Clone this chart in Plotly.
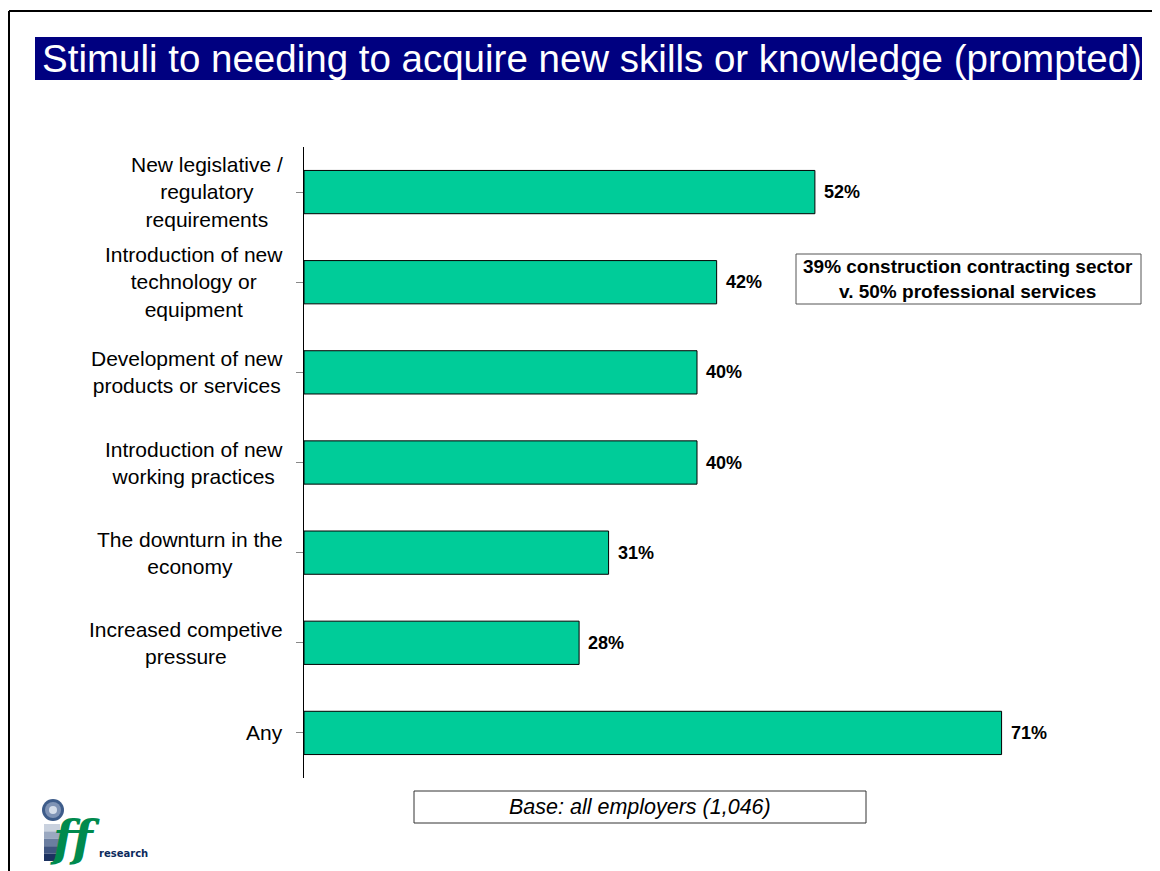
import plotly.graph_objects as go

categories = [
    "New legislative /<br>regulatory<br>requirements",
    "Introduction of new<br>technology or<br>equipment",
    "Development of new<br>products or services",
    "Introduction of new<br>working practices",
    "The downturn in the<br>economy",
    "Increased competive<br>pressure",
    "Any",
]
values = [52, 42, 40, 40, 31, 28, 71]
value_labels = ["52%", "42%", "40%", "40%", "31%", "28%", "71%"]
title_text = "Stimuli to needing to acquire new skills or knowledge (prompted)"
note_text = "39% construction contracting sector<br>v. 50% professional services"
base_text = "Base: all employers (1,046)"

# page body has an 8px margin; work in screen pixels and shift
OFF = 8
W, H = 1160 - OFF, 871 - OFF
L, R, T, B = 304, 1090, 147, 778  # plot area in screen pixels
FONT = "Arial, Liberation Sans, Helvetica, sans-serif"


def px(x):
    return (x - L) / (R - L)


def py(y):
    return (B - y) / (B - T)


ids = list(range(len(categories)))

fig = go.Figure()
fig.add_trace(go.Bar(
    x=values, y=ids, orientation="h",
    marker=dict(color="#00CC99", line=dict(color="#000000", width=1)),
    hoverinfo="skip",
))

annotations = []
for i, c in enumerate(categories):
    annotations.append(dict(
        x=px(285), xref="paper", y=i, yref="y", text=c, showarrow=False,
        xanchor="right", yanchor="middle", align="center",
        font=dict(family=FONT, size=21, color="#000000"),
    ))
for i, (v, t) in enumerate(zip(values, value_labels)):
    annotations.append(dict(
        x=v, xref="x", y=i, yref="y", text="<b>%s</b>" % t, showarrow=False,
        xanchor="left", yanchor="middle", xshift=7,
        font=dict(family=FONT, size=18, color="#000000"),
    ))
annotations.append(dict(
    x=px(40), xref="paper", y=py(59), yref="paper", text=title_text,
    showarrow=False, xanchor="left", yanchor="middle",
    font=dict(family=FONT, size=38.5, color="#FFFFFF"),
))
annotations.append(dict(
    x=px(968), xref="paper", y=py(279), yref="paper", text="<b>%s</b>" % note_text,
    showarrow=False, xanchor="center", yanchor="middle", align="center",
    font=dict(family=FONT, size=19, color="#000000"),
))
annotations.append(dict(
    x=px(640), xref="paper", y=py(807), yref="paper", text="<i>%s</i>" % base_text,
    showarrow=False, xanchor="center", yanchor="middle",
    font=dict(family=FONT, size=21.5, color="#000000"),
))
annotations.append(dict(
    x=px(48), xref="paper", y=py(838), yref="paper", text="<b><i>ff</i></b>",
    showarrow=False, xanchor="left", yanchor="middle",
    font=dict(family="DejaVu Serif, serif", size=48, color="#008A4E"),
))
annotations.append(dict(
    x=px(97), xref="paper", y=py(853), yref="paper", text="<b>research</b>",
    showarrow=False, xanchor="left", yanchor="middle",
    font=dict(family="DejaVu Sans, sans-serif", size=10, color="#0B2A5C"),
))

shapes = []
shapes.append(dict(type="line", xref="paper", yref="paper",
                   x0=px(9), x1=px(1160), y0=py(11), y1=py(11),
                   line=dict(color="#000000", width=2)))
shapes.append(dict(type="line", xref="paper", yref="paper",
                   x0=px(9), x1=px(9), y0=py(11), y1=py(871),
                   line=dict(color="#000000", width=2)))
shapes.append(dict(type="rect", xref="paper", yref="paper",
                   x0=px(35), x1=px(1142), y0=py(37), y1=py(80),
                   fillcolor="#000080", line=dict(width=0), layer="below"))
shapes.append(dict(type="rect", xref="paper", yref="paper",
                   x0=px(796), x1=px(1141), y0=py(254), y1=py(304),
                   fillcolor="#FFFFFF", line=dict(color="#555555", width=1)))
shapes.append(dict(type="rect", xref="paper", yref="paper",
                   x0=px(414), x1=px(866), y0=py(791), y1=py(823),
                   fillcolor="#FFFFFF", line=dict(color="#333333", width=1)))
for r, col in [(11, "#3E5C8A"), (8, "#7F93B5"), (4, "#D5DDEA")]:
    shapes.append(dict(type="circle", xref="paper", yref="paper",
                       x0=px(53 - r), x1=px(53 + r), y0=py(810 - r), y1=py(810 + r),
                       fillcolor=col, line=dict(width=0)))
stem_cols = ["#C9D1DE", "#9AA8C0", "#6B7EA0", "#3F5580", "#1C3260"]
for k, col in enumerate(stem_cols):
    y0 = 824 + k * 7.4
    shapes.append(dict(type="rect", xref="paper", yref="paper",
                       x0=px(44), x1=px(60), y0=py(y0), y1=py(y0 + 7.4),
                       fillcolor=col, line=dict(width=0)))

fig.update_layout(
    width=W, height=H,
    margin=dict(l=L - OFF, r=(W + OFF) - R, t=T - OFF, b=(H + OFF) - B, pad=0),
    paper_bgcolor="#FFFFFF", plot_bgcolor="#FFFFFF",
    showlegend=False,
    bargap=0.52,
    xaxis=dict(range=[0, 80], visible=False, fixedrange=True),
    yaxis=dict(
        range=[6.5, -0.5], tickmode="array", tickvals=ids,
        ticktext=[""] * len(ids), showticklabels=False,
        ticks="outside", tickson="boundaries", ticklen=7, tickcolor="#888888",
        showline=True, linecolor="#000000", linewidth=1,
        showgrid=False, zeroline=False, fixedrange=True,
    ),
    annotations=annotations,
    shapes=shapes,
)

fig.write_html("out.html", config={"displayModeBar": False})
